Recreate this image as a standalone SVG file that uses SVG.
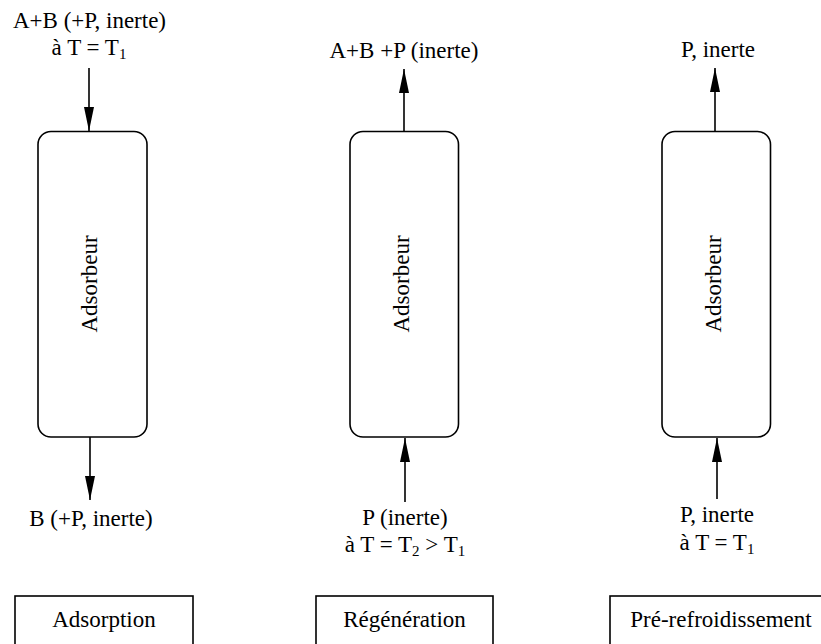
<svg xmlns="http://www.w3.org/2000/svg" width="821" height="644" viewBox="0 0 821 644">
<defs>
<marker id="ah" viewBox="0 0 24 10" refX="24" refY="5" markerWidth="24" markerHeight="10" markerUnits="userSpaceOnUse" orient="auto">
<path d="M0,0 L24,5 L0,10 Z" fill="#000"/>
</marker>
<style>
.t{font-size:23px;fill:#000;text-anchor:middle}
.col{fill:#fff;stroke:#000;stroke-width:1.6}
.lab{fill:#fff;stroke:#000;stroke-width:1.6}
.c{stroke:#000;stroke-width:1.6;fill:none;marker-end:url(#ah)}
.sub{font-size:15px}
</style>
</defs>
<rect width="821" height="644" fill="#fff"/>
<g font-family="Liberation Serif, Tinos, Times New Roman, DejaVu Serif, serif">
<g id="adsorbeur1">
<rect class="col" x="38" y="131.5" width="109" height="305.5" rx="13"/>
<text class="t" transform="translate(97,284) rotate(-90)">Adsorbeur</text>
</g>
<g id="adsorbeur2">
<rect class="col" x="350" y="131.5" width="108.5" height="305.5" rx="13"/>
<text class="t" transform="translate(409,284) rotate(-90)">Adsorbeur</text>
</g>
<g id="adsorbeur3">
<rect class="col" x="662" y="131.5" width="108.5" height="305.5" rx="13"/>
<text class="t" transform="translate(721,284) rotate(-90)">Adsorbeur</text>
</g>
<g id="connectors">
<line class="c" x1="89" y1="68" x2="89" y2="131"/>
<line class="c" x1="90" y1="437" x2="90" y2="500"/>
<line class="c" x1="404" y1="131.5" x2="404" y2="69"/>
<line class="c" x1="405" y1="502" x2="405" y2="438"/>
<line class="c" x1="715" y1="131.5" x2="715" y2="68"/>
<line class="c" x1="717" y1="499" x2="717" y2="438"/>
</g>
<g id="in1">
<text class="t" x="89.5" y="28">A+B (+P, inerte)</text>
<text class="t" x="89" y="55">à T = T<tspan class="sub" dy="4">1</tspan></text>
</g>
<g id="out1">
<text class="t" x="91" y="526">B (+P, inerte)</text>
</g>
<g id="out2">
<text class="t" x="404" y="58">A+B +P (inerte)</text>
</g>
<g id="in2">
<text class="t" x="405" y="525">P (inerte)</text>
<text class="t" x="405" y="552">à T = T<tspan class="sub" dy="4">2</tspan><tspan dy="-4"> &gt; T</tspan><tspan class="sub" dy="4">1</tspan></text>
</g>
<g id="out3">
<text class="t" x="718" y="57">P, inerte</text>
</g>
<g id="in3">
<text class="t" x="717" y="522">P, inerte</text>
<text class="t" x="717" y="550">à T = T<tspan class="sub" dy="4">1</tspan></text>
</g>
<g id="step1">
<rect class="lab" x="15" y="596" width="178" height="70"/>
<text class="t" x="104" y="627">Adsorption</text>
</g>
<g id="step2">
<rect class="lab" x="316" y="596" width="177" height="70"/>
<text class="t" x="404.5" y="627">Régénération</text>
</g>
<g id="step3">
<rect class="lab" x="610" y="596" width="230" height="70"/>
<text class="t" x="721" y="627">Pré-refroidissement</text>
</g>
</g>
</svg>
